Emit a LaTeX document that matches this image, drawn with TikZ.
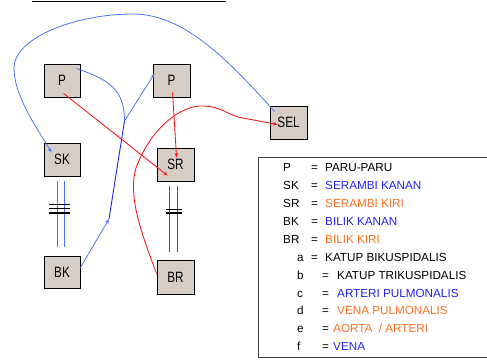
\documentclass[tikz,border=0pt]{standalone}
\usepackage{fontspec}
\setmainfont{Liberation Sans}
\newfontfamily\boxfont[FakeStretch=0.78]{Liberation Sans}
\usetikzlibrary{arrows.meta,shadows}
\definecolor{boxfill}{RGB}{216,205,197}
\definecolor{lblue}{RGB}{75,115,250}
\definecolor{dblue}{RGB}{30,40,230}
\definecolor{vred}{RGB}{250,20,20}
\definecolor{legblue}{RGB}{35,35,250}
\definecolor{legorange}{RGB}{255,112,32}
\begin{document}
\begin{tikzpicture}[x=1pt,y=-1pt,
  organ/.style={draw=black, line width=0.9pt, fill=boxfill, inner sep=0pt,
    minimum width=36pt, minimum height=33pt,
    font=\boxfont\fontsize{15}{15}\selectfont,
    drop shadow={shadow xshift=0.8pt, shadow yshift=-0.8pt, fill=black, opacity=0.35}},
  tip/.style={-{Stealth[length=4.5pt,width=3.5pt]}},
  bluel/.style={draw=lblue, line width=0.8pt},
  blued/.style={draw=dblue, line width=0.9pt},
  redl/.style={draw=vred, line width=0.85pt},
  valve/.style={draw=black, line width=0.8pt},
  leg/.style={anchor=west, inner sep=0pt, text height=8.4pt, text depth=0pt,
    font=\fontsize{11.7}{14}\selectfont}
]
\useasboundingbox (0,0) rectangle (487,359);

% top rule
\coordinate (ruleL) at (32,1.5);
\coordinate (ruleR) at (226,1.5);
\draw[line width=1.1pt] (ruleL) -- (ruleR);

% organs
\node[organ] (P1) at (62,80.5) {P};
\node[organ, minimum width=37pt] (P2) at (171.5,80.5) {P};
\node[organ] (SK) at (62,159.5) {SK};
\node[organ, minimum width=37pt] (SR) at (175.5,164.5) {SR};
\node[organ, minimum height=32pt] (BK) at (62,272) {BK};
\node[organ, minimum width=37pt, minimum height=34pt] (BR) at (175.5,277) {BR};
\node[organ, minimum width=37pt] (SEL) at (288.5,122.5) {SEL};

% junctions of the pulmonary artery
\coordinate (j1) at (109,219);
\coordinate (j2) at (124.5,121);

% vena: SEL -> SK (big loop)
\draw[bluel, tip] ([shift={(5,6)}]SEL.north west)
  .. controls (230,62) and (185,14) .. (133,14)
  .. controls (75,14) and (14,38) .. (14,68)
  .. controls (14,95) and (35,125) .. ([shift={(8,10)}]SK.north west);

% arteri pulmonalis: BK -> j1 -> j2 -> P
\draw[bluel, tip] ([shift={(0,12)}]BK.north east) -- (j1);
\draw[blued] (j1) -- (j2);
\draw[bluel, tip] (j2) -- ([shift={(2,10)}]P2.north west);
\draw[bluel] (j2) .. controls (124.5,90) and (110,80) .. ([shift={(33,5)}]P1.north west);

% vena pulmonalis: P -> SR
\draw[redl, tip] ([shift={(20,-4)}]P1.south west) -- ([shift={(11,28)}]SR.north west);
\draw[redl, tip] ([shift={(20,-5)}]P2.south west) -- ([shift={(20,10)}]SR.north west);

% aorta: BR -> SEL
\draw[redl, tip] ([shift={(0,14)}]BR.north west)
  .. controls (140,230) and (128,195) .. (136,168)
  .. controls (150,130) and (180,104) .. (205,106)
  .. controls (220,107) and (228,114) .. (238,117)
  -- ([shift={(8,19)}]SEL.north west);

% SK - BK with valve
\draw[bluel, line width=0.9pt] ([shift={(-5,5)}]SK.south) -- ([shift={(-5,-9)}]BK.north);
\draw[bluel, line width=0.9pt] ([shift={(2,5)}]SK.south) -- ([shift={(2,-9)}]BK.north);
\draw[valve] (49,204) -- (70,204);
\draw[valve] (49,208.5) -- (70,208.5);
\draw[valve, line width=1.2pt] (49,213) -- (70,213);

% SR - BR with valve
\draw[redl, line width=0.9pt] ([shift={(-6.5,5)}]SR.south) -- ([shift={(-6.5,-8)}]BR.north);
\draw[redl, line width=0.9pt] ([shift={(1.5,5)}]SR.south) -- ([shift={(1.5,-8)}]BR.north);
\draw[valve] (166,209) -- (182,209);
\draw[valve, line width=1.1pt] (166,213) -- (182,213);

% legend frame
\coordinate (fTR) at (490,157);
\coordinate (fTL) at (258,157);
\coordinate (fBL) at (258,357);
\coordinate (fBR) at (490,357);
\draw[line width=1pt, draw=black!75] (fTR) -- (fTL) -- (fBL) -- (fBR);

% legend rows
\node[leg] (k1) at (283,167.5) {P};
\node[leg] (e1) at (311,167.5) {=};
\node[leg] (d1) at (325,167.5) {PARU-PARU};

\node[leg] (k2) at (283,185.4) {SK};
\node[leg] (e2) at (311,185.4) {=};
\node[leg, text=legblue] (d2) at (325,185.4) {SERAMBI KANAN};

\node[leg] (k3) at (283,203.3) {SR};
\node[leg] (e3) at (311,203.3) {=};
\node[leg, text=legorange] (d3) at (325,203.3) {SERAMBI KIRI};

\node[leg] (k4) at (283,221.2) {BK};
\node[leg] (e4) at (311,221.2) {=};
\node[leg, text=legblue] (d4) at (325,221.2) {BILIK KANAN};

\node[leg] (k5) at (283,239.1) {BR};
\node[leg] (e5) at (311,239.1) {=};
\node[leg, text=legorange] (d5) at (325,239.1) {BILIK KIRI};

\node[leg] (k6) at (297,257) {a};
\node[leg] (e6) at (311,257) {=};
\node[leg] (d6) at (325,257) {KATUP BIKUSPIDALIS};

\node[leg] (k7) at (297,274.9) {b};
\node[leg] (e7) at (322,274.9) {=};
\node[leg] (d7) at (337,274.9) {KATUP TRIKUSPIDALIS};

\node[leg] (k8) at (297,292.8) {c};
\node[leg] (e8) at (322,292.8) {=};
\node[leg, text=legblue] (d8) at (337,292.8) {ARTERI PULMONALIS};

\node[leg] (k9) at (297,310.7) {d};
\node[leg] (e9) at (322,310.7) {=};
\node[leg, text=legorange] (d9) at (337,310.7) {VENA PULMONALIS};

\node[leg] (k10) at (297,328.6) {e};
\node[leg] (e10) at (322,328.6) {=};
\node[leg, text=legorange] (d10) at (333,328.6) {AORTA~~/ ARTERI};

\node[leg] (k11) at (297,346.5) {f};
\node[leg] (e11) at (322,346.5) {=};
\node[leg, text=legblue] (d11) at (333,346.5) {VENA};
\end{tikzpicture}
\end{document}
